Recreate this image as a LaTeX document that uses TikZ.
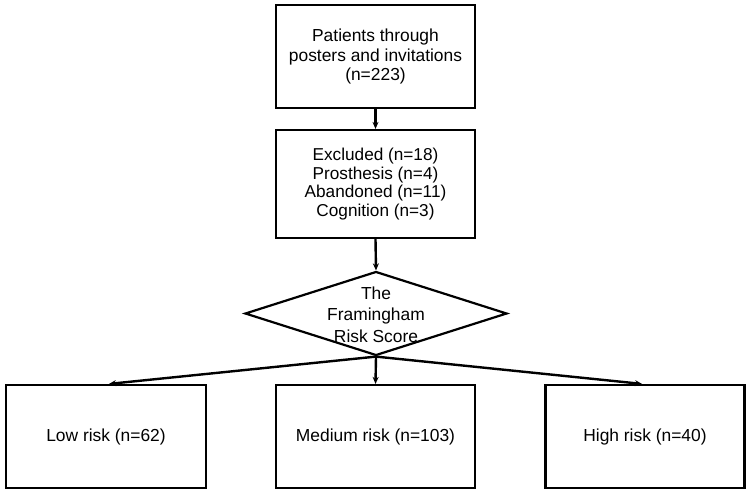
\documentclass[tikz,border=0pt]{standalone}
\usepackage{fontspec}
\setmainfont{Liberation Sans}
\usetikzlibrary{shapes.geometric,arrows.meta}
\begin{document}
\begin{tikzpicture}[x=1pt,y=-1pt,
  box/.style={draw, line width=2.2pt, align=center, inner sep=0pt,
    font=\fontsize{17.4}{19.5}\selectfont},
  conn/.style={draw, line width=2.4pt, -{Stealth[length=7pt,width=6pt]}}]
\useasboundingbox (0,0) rectangle (750,496);
\node[box, minimum width=199, minimum height=103] (top) at (375.5,56.5)
  {Patients through\\posters and invitations\\(n=223)};
\node[box, minimum width=199, minimum height=108,
  font=\fontsize{17.2}{18.4}\selectfont] (excl) at (375.5,184)
  {Excluded (n=18)\\Prosthesis (n=4)\\Abandoned (n=11)\\Cognition (n=3)};
\node[diamond, draw, line width=2.2pt, minimum width=262, minimum height=84,
  inner sep=0pt, aspect=3.1] (frs) at (376,313.5) {};
\node[align=center, font=\fontsize{17.4}{21.5}\selectfont] (frstxt) at ([yshift=-1pt]frs) {The\\Framingham\\Risk Score};
\node[box, minimum width=200, minimum height=103] (low) at (106,436.5) {Low risk (n=62)};
\node[box, minimum width=199, minimum height=103] (med) at (375.5,436.5) {Medium risk (n=103)};
\node[box, minimum width=199, minimum height=103] (high) at (645,436.5) {High risk (n=40)};
\path[conn] (top.south) -- (excl.north);
\path[conn] (excl.south) -- (frs.north);
\path[conn] (frs.south) -- ([xshift=3pt]low.north);
\path[conn] (frs.south) -- (med.north);
\path[conn] (frs.south) -- ([xshift=-3pt]high.north);
\end{tikzpicture}
\end{document}
